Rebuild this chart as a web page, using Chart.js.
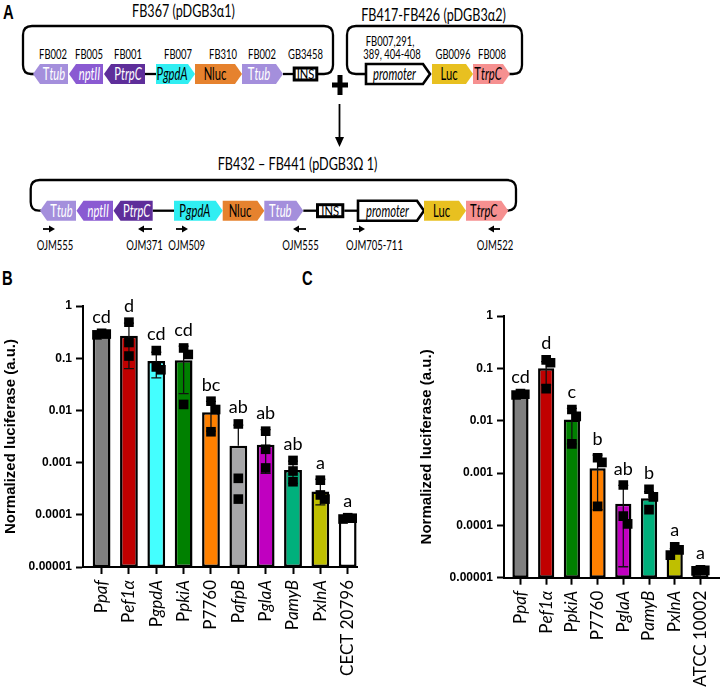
<!DOCTYPE html>
<html>
<head>
<meta charset="utf-8">
<script src="https://cdn.jsdelivr.net/npm/chart.js"></script>
<style>
  body { margin: 0; background: #fff; width: 726px; height: 689px; overflow: hidden; position: relative; }
  #diagram { position: absolute; left: 0; top: 0; }
  #wrapB { position: absolute; left: 0; top: 290px; width: 370px; height: 399px; }
  #wrapC { position: absolute; left: 380px; top: 290px; width: 346px; height: 399px; }
</style>
</head>
<body>
<svg id="diagram" width="726" height="290"></svg>
<div id="wrapB"><canvas id="chartB" width="370" height="399"></canvas></div>
<div id="wrapC"><canvas id="chartC" width="346" height="399"></canvas></div>
<script>
// ---- data ----
const catsB = ['Ppaf', 'Pef1α', 'PgpdA', 'PpkiA', 'P7760', 'PafpB', 'PglaA', 'PamyB', 'PxlnA', 'CECT 20796'];
const meanB = [0.29, 0.27, 0.088, 0.091, 0.0092, 0.0021, 0.0022, 0.00072, 0.00028, 0.000085];
const hiB   = [0.30, 0.47, 0.13, 0.17, 0.0149, 0.0052, 0.0043, 0.00107, 0.00048, 0.000088];
const loB   = [0.28, 0.063, 0.042, 0.021, 0.004, null, 0.00062, 0.0004, 0.000155, 0.000082];
const repsB = [
  [0.30, 0.29, 0.28], [0.49, 0.2, 0.11], [0.14, 0.068, 0.06], [0.157, 0.118, 0.013],
  [0.015, 0.0104, 0.0039], [0.0055, 0.0005, 0.0002], [0.004, 0.0018, 0.00079],
  [0.0011, 0.00069, 0.00043], [0.00046, 0.00024, 0.0002], [0.000088, 0.000086, 0.000083]
];
const lettersB = ['cd', 'd', 'cd', 'cd', 'bc', 'ab', 'ab', 'ab', 'a', 'a'];

const catsC = ['Ppaf', 'Pef1α', 'PpkiA', 'P7760', 'PglaA', 'PamyB', 'PxlnA', 'ATCC 10002'];
const meanC = [0.032, 0.10, 0.0105, 0.00123, 0.00026, 0.00033, 0.0000315, 0.0000135];
const hiC   = [0.0335, 0.134, 0.0172, 0.0022, 0.00058, 0.00044, 0.000036, 0.0000142];
const loC   = [0.0305, 0.048, 0.0036, 0.0002, 0.0000162, null, null, null];
const repsC = [
  [0.033, 0.032, 0.031], [0.145, 0.128, 0.041], [0.0164, 0.0121, 0.0036], [0.00196, 0.0016, 0.00023],
  [0.00059, 0.00015, 0.000107], [0.00049, 0.00035, 0.0002], [0.000039, 0.000034, 0.000027],
  [0.0000141, 0.0000138, 0.0000135]
];
const lettersC = ['cd', 'd', 'c', 'b', 'ab', 'b', 'a', 'a'];

const yTickVals = [0.00001, 0.0001, 0.001, 0.01, 0.1, 1];
const yTickText = ['0.00001', '0.0001', '0.001', '0.01', '0.1', '1'];

// colours
const colorsB = ['#7f7f7f', '#c00000', '#44ffff', '#008000', '#ff8000', '#a6a6a8', '#c000c0', '#00b07c', '#bfbf00', '#ffffff'];
const colorsC = ['#7f7f7f', '#c00000', '#008000', '#ff8000', '#c000c0', '#00b07c', '#bfbf00', '#ffffff'];

// ---- panel A: construct diagram (svg) ----
const NS = 'http://www.w3.org/2000/svg';
const svg = document.getElementById('diagram');
const SX = 0.70; // the figure text is horizontally condensed

function el(tag, attrs, parent) {
  const e = document.createElementNS(NS, tag);
  for (const k in attrs) e.setAttribute(k, attrs[k]);
  (parent || svg).appendChild(e);
  return e;
}

// *...* marks italic parts
function txt(x, y, s, size, opt) {
  opt = opt || {};
  const t = el('text', {
    transform: `translate(${x},${y}) scale(${opt.sx || SX},1)`,
    'text-anchor': opt.anchor || 'middle',
    'font-size': size,
    'font-family': opt.family || 'Lato, sans-serif',
    'font-weight': opt.bold ? 'bold' : 'normal',
    fill: opt.fill || '#000'
  });
  s.split(/(\*[^*]+\*)/).filter(p => p).forEach(p => {
    const ts = el('tspan', {}, t);
    if (p[0] === '*') { ts.setAttribute('font-style', 'italic'); ts.textContent = p.slice(1, -1); }
    else ts.textContent = p;
  });
}

function gene(x1, x2, yc, dir, fill, name, textFill, stroke) {
  const h = 7, t = yc - 10, b = yc + 10;
  const pts = dir === 'R'
    ? [[x1, t], [x2 - h, t], [x2, yc], [x2 - h, b], [x1, b]]
    : [[x1 + h, t], [x2, t], [x2, b], [x1 + h, b], [x1, yc]];
  el('polygon', {
    points: pts.map(p => p.join(',')).join(' '),
    fill: fill, stroke: stroke || 'none', 'stroke-width': stroke ? 2.6 : 0
  });
  const cx = dir === 'R' ? (x1 + x2 - h) / 2 : (x1 + h + x2) / 2;
  txt(cx, yc + 6.3, name, 17.5, { fill: textFill, sx: 0.64 });
}

function line(d, w) {
  el('path', { d: d, fill: 'none', stroke: '#000', 'stroke-width': w || 2.3, 'stroke-linejoin': 'round' });
}

function insBox(x1, x2, yc) {
  el('rect', { x: x1 + 1.5, y: yc - 6, width: x2 - x1 - 3, height: 12, fill: '#fff', stroke: '#000', 'stroke-width': 3 });
  txt((x1 + x2) / 2, yc + 4.8, 'INS', 14, { sx: 0.8 });
}

function primer(x1, x2, dir, label, lx) {
  const y = 229;
  if (dir === 'R') {
    line(`M${x1},${y} H${x2 - 4}`, 1.8);
    el('polygon', { points: `${x2 - 6},${y - 3.5} ${x2},${y} ${x2 - 6},${y + 3.5}`, fill: '#000' });
  } else {
    line(`M${x1 + 4},${y} H${x2}`, 1.8);
    el('polygon', { points: `${x1 + 6},${y - 3.5} ${x1},${y} ${x1 + 6},${y + 3.5}`, fill: '#000' });
  }
  txt(lx, 249.5, label, 14, { sx: 0.68 });
}

const cTtub = '#a48fdc', cNpt = '#8a5ad2', cPtrp = '#5e2e9a', cGpd = '#30eef2',
      cNluc = '#e6822e', cLuc = '#e8c020', cTtrp = '#f69090';

// panel letters
const boldFam = '"Liberation Sans", Arial, sans-serif';
txt(3, 18.5, 'A', 19.5, { anchor: 'start', bold: true, family: boldFam, sx: 0.76 });
txt(2, 285, 'B', 19.5, { anchor: 'start', bold: true, family: boldFam, sx: 0.76 });
txt(302, 285, 'C', 19.5, { anchor: 'start', bold: true, family: boldFam, sx: 0.76 });

// FB367 (left plasmid)
txt(183.5, 17, 'FB367 (pDGB3α1)', 18);
line('M34,74 H31 Q23,74 23,65 V35 Q23,26 32,26 H324 Q333,26 333,35 V65 Q333,74 324,74 H318');
line('M145,74 H157');
line('M283,74 H293');
gene(33, 68, 74, 'L', cTtub, 'T*tub*', '#fff');
gene(69, 103, 74, 'L', cNpt, '*nptII*', '#fff');
gene(104, 145, 74, 'L', cPtrp, 'P*trpC*', '#fff');
gene(156, 195, 74, 'R', cGpd, 'P*gpdA*', '#000');
gene(195, 242, 74, 'R', cNluc, 'Nluc', '#000');
gene(242, 283, 74, 'R', cTtub, 'T*tub*', '#fff');
insBox(292.7, 318.3, 74);
[[53, 'FB002'], [89, 'FB005'], [128, 'FB001'], [178, 'FB007'], [223, 'FB310'], [262, 'FB002'], [305.5, 'GB3458']]
  .forEach(([x, s]) => txt(x, 59, s, 13.5));

// FB417-FB426 (right plasmid)
txt(433.5, 20.5, 'FB417-FB426 (pDGB3α2)', 18);
line('M366,74 H356 Q347,74 347,65 V35 Q347,26 356,26 H513 Q522,26 522,35 V65 Q522,74 513,74 H509');
gene(366, 430, 74, 'R', '#fff', '*promoter*', '#000', '#000');
gene(432, 473, 74, 'R', cLuc, 'Luc', '#000');
gene(473, 510, 74, 'R', cTtrp, 'T*trpC*', '#000');
txt(390, 46, 'FB007,291,', 13.5);
txt(392, 59, '389, 404-408', 13.5);
txt(453, 59, 'GB0096', 13.5);
txt(492, 59, 'FB008', 13.5);

// plus and arrow
el('rect', { x: 332, y: 82.5, width: 16, height: 5, fill: '#000' });
el('rect', { x: 337.5, y: 75, width: 5, height: 20, fill: '#000' });
line('M339.5,104 V140', 1.8);
el('polygon', { points: '335,137 344,137 339.5,147', fill: '#000' });

// FB432 - FB441 (assembled)
txt(297.5, 170, 'FB432 – FB441 (pDGB3Ω 1)', 18);
line('M41,210.7 H39 Q30.7,210.7 30.7,202 V189 Q30.7,180 39.7,180 H507 Q516,180 516,189 V202 Q516,210.7 507,210.7 H507');
line('M152.7,210.7 H174');
line('M303.3,210.7 H316');
line('M344.3,210.7 H357');
gene(40, 76, 210.7, 'L', cTtub, 'T*tub*', '#fff');
gene(76.5, 113, 210.7, 'L', cNpt, '*nptII*', '#fff');
gene(113.5, 152.7, 210.7, 'L', cPtrp, 'P*trpC*', '#fff');
gene(174, 222.7, 210.7, 'R', cGpd, 'P*gpdA*', '#000');
gene(222.7, 264.3, 210.7, 'R', cNluc, 'Nluc', '#000');
gene(264.3, 303.3, 210.7, 'R', cTtub, 'T*tub*', '#fff');
insBox(316, 344.3, 210.7);
gene(358, 424, 210.7, 'R', '#fff', '*promoter*', '#000', '#000');
gene(424, 466, 210.7, 'R', cLuc, 'Luc', '#000');
gene(466, 508.3, 210.7, 'R', cTtrp, 'T*trpC*', '#000');

primer(43, 55, 'R', 'OJM555', 55);
primer(138, 152, 'L', 'OJM371', 144.5);
primer(176, 188, 'R', 'OJM509', 186.7);
primer(293, 306, 'L', 'OJM555', 300.5);
primer(353, 365, 'R', 'OJM705-711', 374.5);
primer(488, 500, 'L', 'OJM522', 495);

// ---- panels B and C: Chart.js ----

// spread replicate squares sideways when they would overlap
function spread(vals) {
  const off = vals.map(() => 0);
  for (let j = 1; j < vals.length; j++) {
    for (let k = 0; k < j; k++) {
      if (Math.abs(Math.log10(vals[j] / vals[k])) < 0.17 && off[j] === off[k]) {
        off[j] = off[k] <= 0 ? 0.17 : -0.17;
        k = -1;
      }
    }
  }
  return off;
}

const annot = {
  id: 'annot',
  afterDatasetDraw(chart, args, o) {
    if (args.index !== 0) return;
    const { ctx } = chart;
    const xs = chart.scales.x, ys = chart.scales.y;
    ctx.save();
    ctx.strokeStyle = '#111';
    ctx.lineWidth = 1.3;
    o.mean.forEach((m, i) => {
      const x = xs.getPixelForValue(i);
      const yh = ys.getPixelForValue(o.hi[i]);
      const yl = ys.getPixelForValue(o.lo[i] != null ? o.lo[i] : m);
      ctx.beginPath();
      ctx.moveTo(x, yh); ctx.lineTo(x, yl);
      ctx.moveTo(x - 5, yh); ctx.lineTo(x + 5, yh);
      if (o.lo[i] != null) { ctx.moveTo(x - 5, yl); ctx.lineTo(x + 5, yl); }
      ctx.stroke();
    });
    ctx.restore();
  },
  afterDraw(chart, args, o) {
    const { ctx, chartArea } = chart;
    const xs = chart.scales.x, ys = chart.scales.y;
    ctx.save();
    ctx.fillStyle = '#000';
    // significance letters
    ctx.font = '18px Lato';
    ctx.textAlign = 'center';
    ctx.textBaseline = 'alphabetic';
    o.letters.forEach((l, i) => {
      const top = Math.max(o.mean[i], o.hi[i], ...o.reps[i]);
      ctx.fillText(l, xs.getPixelForValue(i), ys.getPixelForValue(top) - 10.5);
    });
    // rotated category labels, promoter names in italics after the P
    ctx.textAlign = 'left';
    ctx.textBaseline = 'middle';
    o.cats.forEach((c, i) => {
      const parts = /^P[a-z]/.test(c) ? [['P', ''], [c.slice(1), 'italic ']] : [[c, '']];
      let w = 0;
      parts.forEach(p => { ctx.font = p[1] + '17px Lato'; w += ctx.measureText(p[0]).width; });
      ctx.save();
      ctx.translate(xs.getPixelForValue(i), chartArea.bottom + 13);
      ctx.rotate(-Math.PI / 2);
      let cx = -w;
      parts.forEach(p => {
        ctx.font = p[1] + '17px Lato';
        ctx.fillText(p[0], cx, 0);
        cx += ctx.measureText(p[0]).width;
      });
      ctx.restore();
    });
    ctx.restore();
  }
};

function makeChart(id, cats, mean, hi, lo, reps, letters, colors, lay) {
  const pts = [];
  reps.forEach((r, i) => {
    const off = spread(r);
    r.forEach((v, j) => pts.push({ x: i + off[j], y: v }));
  });
  return new Chart(document.getElementById(id), {
    type: 'bar',
    data: {
      datasets: [
        {
          type: 'bar',
          order: 2,
          data: mean.map((v, i) => ({ x: i, y: v })),
          backgroundColor: colors,
          borderColor: '#000',
          borderWidth: 2.5,
          borderSkipped: false,
          barPercentage: lay.barPct,
          categoryPercentage: 1
        },
        {
          type: 'scatter',
          order: 1,
          data: pts,
          pointStyle: 'rect',
          pointRadius: 6.8,
          pointHoverRadius: 6.8,
          pointBackgroundColor: '#000',
          pointBorderWidth: 0
        }
      ]
    },
    options: {
      responsive: false,
      animation: false,
      events: [],
      layout: { padding: { top: lay.padTop, right: lay.padRight, left: 0, bottom: 0 } },
      plugins: {
        legend: { display: false },
        tooltip: { enabled: false },
        annot: { cats, mean, hi, lo, reps, letters }
      },
      scales: {
        x: {
          type: 'linear',
          offset: false,
          min: lay.xmin,
          max: lay.xmax,
          afterBuildTicks: s => { s.ticks = cats.map((c, i) => ({ value: i })); },
          afterFit: s => { s.height = lay.xHeight; },
          ticks: { display: false },
          grid: { display: true, offset: false, drawOnChartArea: false, drawTicks: true, tickLength: 7, tickWidth: 2, color: '#000', tickColor: '#000' },
          border: { display: true, color: '#000', width: 2 }
        },
        y: {
          type: 'logarithmic',
          min: 0.00001,
          max: 1,
          afterBuildTicks: s => { s.ticks = yTickVals.map(v => ({ value: v })); },
          afterFit: s => { s.width = lay.yWidth; },
          ticks: {
            callback: v => yTickText[yTickVals.indexOf(v)],
            font: { family: boldFam, weight: 'bold', size: 12 },
            color: '#000',
            padding: 4,
            autoSkip: false
          },
          grid: { display: true, drawOnChartArea: false, drawTicks: true, tickLength: 7, tickWidth: 2, color: '#000', tickColor: '#000' },
          border: { display: true, color: '#000', width: 2 },
          title: {
            display: true,
            text: 'Normalized luciferase (a.u.)',
            color: '#000',
            font: { family: boldFam, weight: 'bold', size: 15 },
            padding: { top: lay.titlePad, bottom: 0 }
          }
        }
      }
    },
    plugins: [annot]
  });
}

makeChart('chartB', catsB, meanB, hiB, loB, repsB, lettersB, colorsB,
  { xmin: -0.68, xmax: 9.34, padTop: 16, padRight: 13, yWidth: 83, xHeight: 122, titlePad: 1.5, barPct: 0.65 });
makeChart('chartC', catsC, meanC, hiC, loC, repsC, lettersC, colorsC,
  { xmin: -0.64, xmax: 7.73, padTop: 26, padRight: 4.3, yWidth: 124, xHeight: 111.3, titlePad: 38, barPct: 0.63 });
</script>
</body>
</html>
